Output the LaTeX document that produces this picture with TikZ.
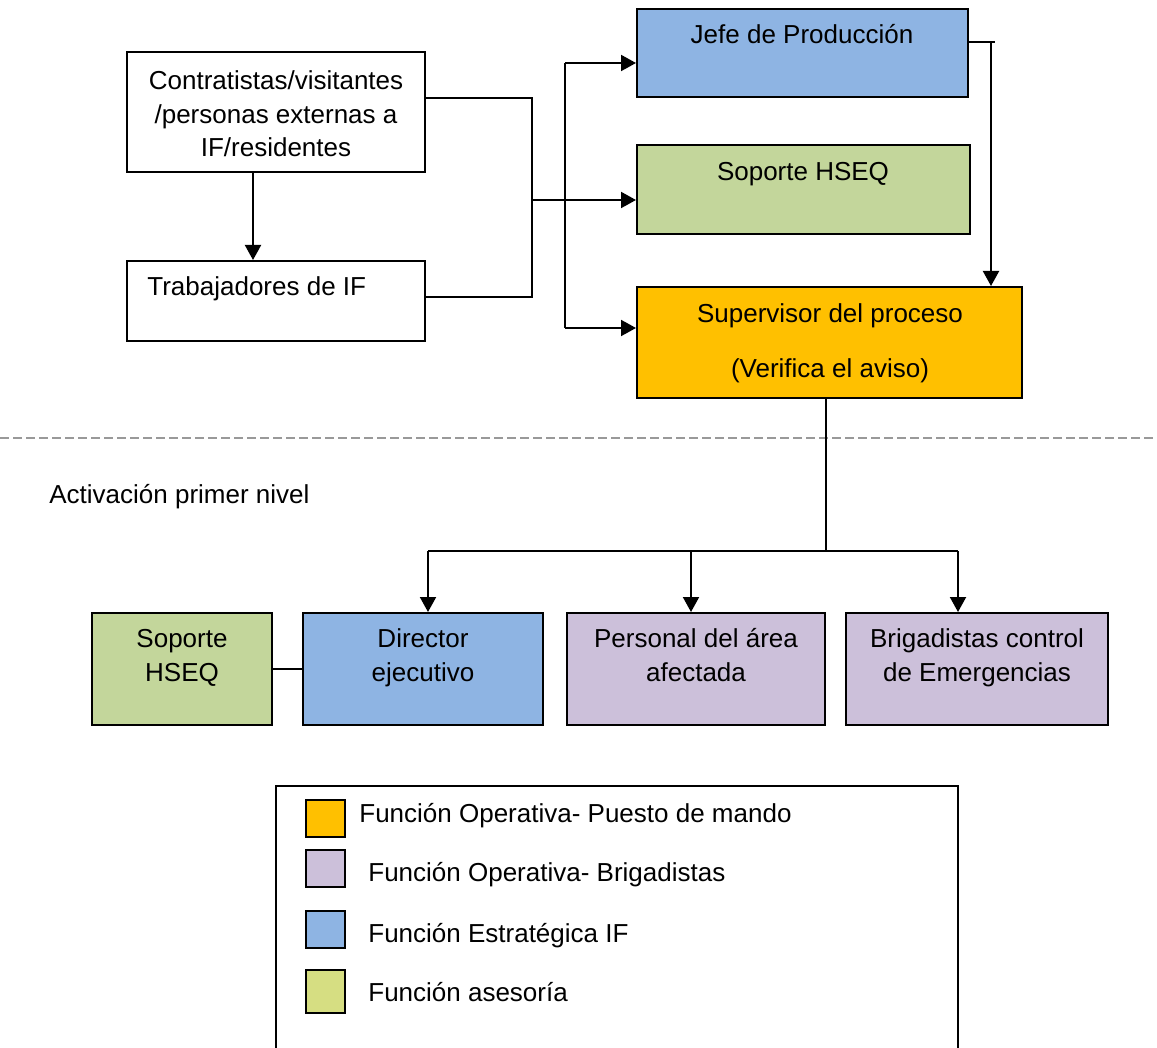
\documentclass[tikz,border=0pt]{standalone}
\usepackage{fontspec}
\setmainfont{Liberation Sans}
\usetikzlibrary{arrows.meta}
\definecolor{cblue}{HTML}{8EB4E3}
\definecolor{cgreen}{HTML}{C3D69B}
\definecolor{corange}{HTML}{FFC000}
\definecolor{cpurple}{HTML}{CCC0DA}
\definecolor{colive}{HTML}{D6DE82}
\definecolor{cdash}{HTML}{999999}
\begin{document}
\begin{tikzpicture}[x=0.5pt,y=-0.5pt,
  box/.style={draw=black, line width=1pt, inner sep=0pt},
  txt/.style={anchor=base, inner sep=0pt, font=\fontsize{13}{17}\selectfont},
  ltxt/.style={txt, anchor=base west},
  conn/.style={line width=1pt},
  arr/.style={conn, -{Triangle[length=7.5pt,width=8pt]}},
  swatch/.style={draw=black, line width=1pt, inner sep=0pt, minimum width=19.5pt, minimum height=18.5pt}
]
\useasboundingbox (0,0) rectangle (1157,1048);

% upper part: sources of the alert
\node[box, minimum width=149pt, minimum height=60pt] (contr) at (276,112) {};
\node[txt] (contr1) at (276,90) {Contratistas/visitantes};
\node[txt] (contr2) at (276,124) {/personas externas a};
\node[txt] (contr3) at (276,157) {IF/residentes};

\node[box, minimum width=149pt, minimum height=40pt] (trab) at (276,301) {};
\node[ltxt] (trabt) at (147,296) {Trabajadores de IF};

% receivers
\node[box, fill=cblue, minimum width=165.5pt, minimum height=44pt] (jefe) at (802.5,53) {};
\node[txt] (jefet) at (802,44) {Jefe de Producción};

\node[box, fill=cgreen, minimum width=166.5pt, minimum height=44.5pt] (hseqa) at (803.5,189.5) {};
\node[txt] (hseqat) at (803,181) {Soporte HSEQ};

\node[box, fill=corange, minimum width=192.5pt, minimum height=55.5pt] (sup) at (829.5,342.5) {};
\node[txt] (sup1) at (830,322) {Supervisor del proceso};
\node[txt] (sup2) at (830,378) {(Verifica el aviso)};

% level separator
\draw[cdash, line width=1pt, dash pattern=on 4.3pt off 2.2pt] (0,438) -- (1157,438);
\node[ltxt] (nivel) at (49,503) {Activación primer nivel};

% first level activation
\node[box, fill=cgreen, minimum width=90pt, minimum height=56pt] (hseqb) at (182,669) {};
\node[txt] (hseqb1) at (182,647) {Soporte};
\node[txt] (hseqb2) at (182,681) {HSEQ};

\node[box, fill=cblue, minimum width=120pt, minimum height=56pt] (dir) at (423,669) {};
\node[txt] (dir1) at (423,647) {Director};
\node[txt] (dir2) at (423,681) {ejecutivo};

\node[box, fill=cpurple, minimum width=129pt, minimum height=56pt] (pers) at (696,669) {};
\node[txt] (pers1) at (696,647) {Personal del área};
\node[txt] (pers2) at (696,681) {afectada};

\node[box, fill=cpurple, minimum width=131pt, minimum height=56pt] (brig) at (977,669) {};
\node[txt] (brig1) at (977,647) {Brigadistas control};
\node[txt] (brig2) at (977,681) {de Emergencias};

% connectors
\coordinate (a1) at (253,0);
\draw[arr] (contr.south -| a1) -- (trab.north -| a1);

\coordinate (m1) at (532,98);
\coordinate (m2) at (532,297);
\coordinate (m3) at (532,200);
\draw[conn] (contr.east |- m1) -- (m1) -- (m2) -- (trab.east |- m2);
\draw[arr] (m3) -- (hseqa.west |- m3);

\coordinate (v1) at (565,63);
\coordinate (v2) at (565,328);
\draw[conn] (v1) -- (v2);
\draw[arr] (v1) -- (jefe.west |- v1);
\draw[arr] (v2) -- (sup.west |- v2);

\coordinate (j1) at (995,42);
\coordinate (j2) at (991,42);
\draw[conn] (jefe.east |- j1) -- (j1);
\draw[arr] (j2) -- (sup.north -| j2);

\coordinate (b0) at (826,551);
\coordinate (bl) at (428,551);
\coordinate (bm) at (691,551);
\coordinate (br) at (958,551);
\draw[conn] (sup.south -| b0) -- (b0);
\draw[conn] (bl) -- (br);
\draw[arr] (bl) -- (dir.north -| bl);
\draw[arr] (bm) -- (pers.north -| bm);
\draw[arr] (br) -- (brig.north -| br);
\draw[conn] (hseqb.east) -- (dir.west);

% legend
\draw[line width=1pt] (276,1060) -- (276,786) -- (958,786) -- (958,1060);
\node[swatch, fill=corange] (sw1) at (325.5,818) {};
\node[swatch, fill=cpurple] (sw2) at (325.5,868) {};
\node[swatch, fill=cblue] (sw3) at (325.5,929.5) {};
\node[swatch, fill=colive, minimum height=21.5pt] (sw4) at (325.5,991) {};
\node[ltxt] (lg1) at (359,822) {Función Operativa- Puesto de mando};
\node[ltxt] (lg2) at (368,881) {Función Operativa- Brigadistas};
\node[ltxt] (lg3) at (368,942) {Función Estratégica IF};
\node[ltxt] (lg4) at (368,1001) {Función asesoría};
\end{tikzpicture}
\end{document}
